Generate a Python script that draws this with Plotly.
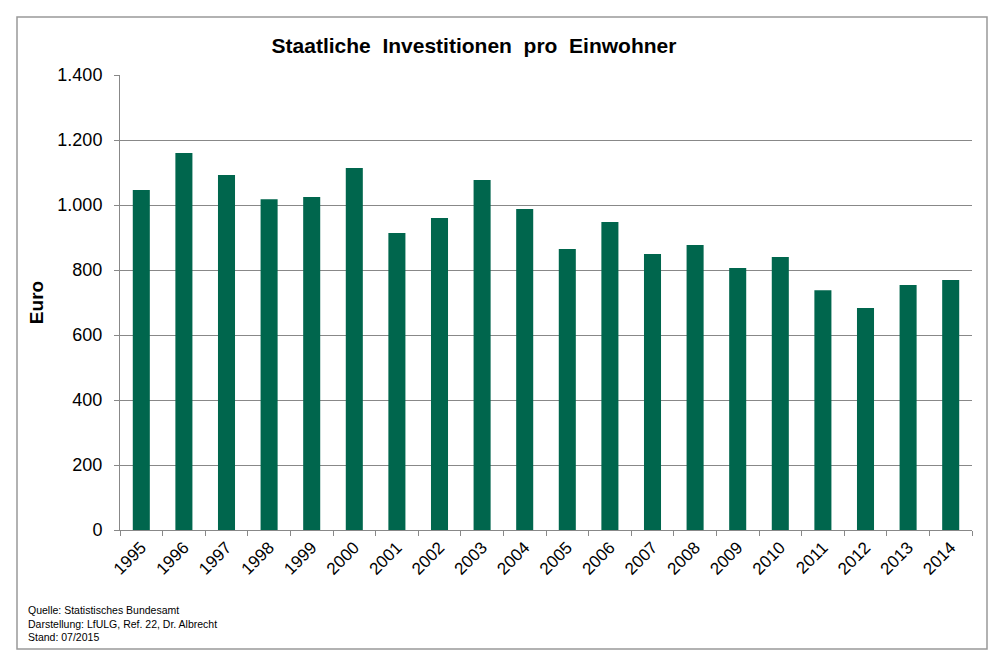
import plotly.graph_objects as go

years = ["1995", "1996", "1997", "1998", "1999", "2000", "2001", "2002", "2003", "2004",
         "2005", "2006", "2007", "2008", "2009", "2010", "2011", "2012", "2013", "2014"]
values = [1046, 1160, 1092, 1018, 1025, 1114, 914, 960, 1077, 988,
          865, 948, 849, 877, 806, 840, 738, 683, 754, 769]
y_ticks = [0, 200, 400, 600, 800, 1000, 1200, 1400]

title_text = "Staatliche  Investitionen  pro  Einwohner"
y_title = "Euro"
footer_lines = ["Quelle: Statistisches Bundesamt",
                "Darstellung: LfULG, Ref. 22, Dr. Albrecht",
                "Stand: 07/2015"]

FONT = "Liberation Sans, Arial, sans-serif"

# page offset (body margin) compensation
OFF = 8
L, R_EDGE, T, B_EDGE = 120 - OFF, 972 - OFF, 75 - OFF, 530 - OFF
PW, PH = R_EDGE - L, B_EDGE - T

def px(x):
    return (x - OFF - L) / PW

def py(y):
    return (B_EDGE - (y - OFF)) / PH

fig = go.Figure(go.Bar(x=years, y=values, marker=dict(color="#00664D", line=dict(width=0))))

fig.update_layout(
    width=1000, height=666,
    margin=dict(l=L, r=1000 - R_EDGE, t=T, b=666 - B_EDGE),
    paper_bgcolor="white", plot_bgcolor="white",
    bargap=0.6,
    separators=",.",
    showlegend=False,
    font=dict(family=FONT, color="black"),
    title=dict(text="<b>" + title_text + "</b>", x=(474 - OFF) / 1000, xanchor="center",
               y=1 - (46 - OFF) / 666, yanchor="middle", font=dict(size=21, family=FONT)),
)

fig.update_xaxes(
    type="category", tickson="boundaries", ticks="outside", ticklen=5,
    tickcolor="#888888", showline=True, linecolor="#888888", linewidth=1,
    showgrid=False, tickangle=-45, tickfont=dict(size=17, family=FONT),
)
fig.update_yaxes(
    range=[0, 1400], tickvals=y_ticks, tickformat=",d", ticks="outside", ticklen=5,
    tickcolor="#888888", showline=True, linecolor="#888888", linewidth=1,
    showgrid=True, gridcolor="#888888", gridwidth=1,
    tickfont=dict(size=18, family=FONT), zeroline=False, ticklabelstandoff=8,
    title=dict(text="<b>" + y_title + "</b>", font=dict(size=19, family=FONT), standoff=8),
)

# outer frame
fig.add_shape(type="rect", xref="paper", yref="paper",
              x0=px(17), x1=px(987), y0=py(649), y1=py(17),
              line=dict(color="#999999", width=1.5), fillcolor="rgba(0,0,0,0)")

for i, line in enumerate(footer_lines):
    fig.add_annotation(text=line, xref="paper", yref="paper",
                       x=px(26), y=py(610 + i * 13.5),
                       xanchor="left", yanchor="middle", showarrow=False,
                       font=dict(size=10.5, family=FONT, color="black"))

fig.write_html("out.html")
